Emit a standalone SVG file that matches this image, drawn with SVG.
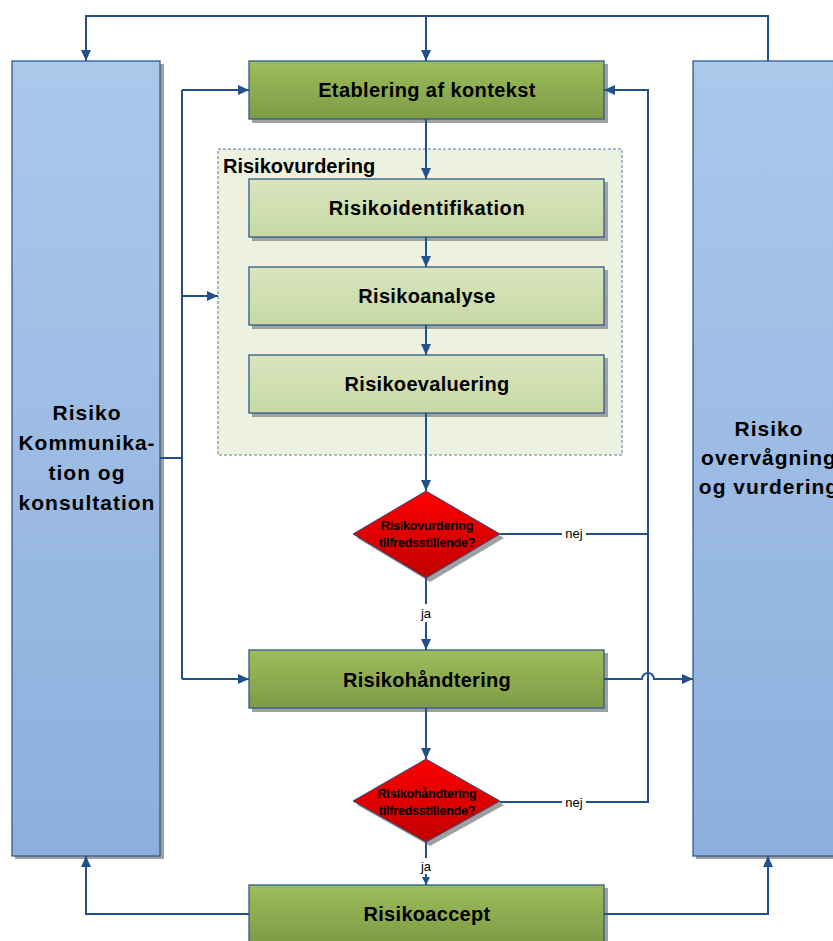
<svg xmlns="http://www.w3.org/2000/svg" width="833" height="941" viewBox="0 0 833 941">
<defs>
<linearGradient id="gG" x1="0" y1="0" x2="0" y2="1"><stop offset="0" stop-color="#9dbd5b"/><stop offset="1" stop-color="#7e9b45"/></linearGradient>
<linearGradient id="gL" x1="0" y1="0" x2="0" y2="1"><stop offset="0" stop-color="#d9e5be"/><stop offset="1" stop-color="#c7d8a4"/></linearGradient>
<linearGradient id="gB" x1="0" y1="0" x2="0" y2="1"><stop offset="0" stop-color="#abc8eb"/><stop offset="1" stop-color="#8cafdd"/></linearGradient>
<linearGradient id="gR" x1="0" y1="0" x2="0" y2="1"><stop offset="0" stop-color="#ff0000"/><stop offset="1" stop-color="#c00000"/></linearGradient>
<marker id="ah" markerUnits="userSpaceOnUse" markerWidth="12" markerHeight="10" refX="11" refY="5" orient="auto"><path d="M0,0 L11,5 L0,10 z" fill="#24508a"/></marker>
<marker id="ahs" markerUnits="userSpaceOnUse" markerWidth="8" markerHeight="8" refX="8" refY="4" orient="auto"><path d="M0,0 L8,4 L0,8 z" fill="#24508a"/></marker>
</defs>
<style>
.sh{fill:#a0a0a0}
.box{stroke:#2f5b8c;stroke-width:1.3}
.con{fill:none;stroke:#24508a;stroke-width:2}
.t{font-family:"Liberation Sans",Arial,sans-serif;font-weight:bold;fill:#000;text-anchor:middle}
.bt{font-size:20px;letter-spacing:0.3px}
.pt{font-size:21px;letter-spacing:1px}
.dt{font-size:12.5px;letter-spacing:-0.2px}
.lbl{font-family:"Liberation Sans",Arial,sans-serif;font-size:13px;fill:#000;text-anchor:middle}
</style>
<rect width="833" height="941" fill="#fff"/>

<g id="kommunikation">
<rect class="sh" x="15" y="64" width="149" height="795"/>
<rect class="box" x="12" y="61" width="148" height="795" fill="url(#gB)"/>
<text class="t pt" x="87" y="420">Risiko</text>
<text class="t pt" x="87" y="450">Kommunika-</text>
<text class="t pt" x="87" y="480">tion og</text>
<text class="t pt" x="87" y="510">konsultation</text>
</g>

<g id="overvaagning">
<rect class="sh" x="696" y="64" width="150" height="795"/>
<rect class="box" x="693" y="61" width="150" height="795" fill="url(#gB)"/>
<text class="t pt" x="769" y="436">Risiko</text>
<text class="t pt" x="769" y="465">overvågning</text>
<text class="t pt" x="769" y="494">og vurdering</text>
</g>

<g id="risikovurdering">
<rect x="218" y="149" width="404" height="306" fill="#ecf1e0" stroke="#5a7aa0" stroke-width="1" stroke-dasharray="3,2"/>
<text class="t" x="223" y="173" style="font-size:20px;text-anchor:start">Risikovurdering</text>
</g>

<g id="etablering">
<rect class="sh" x="252" y="64" width="356" height="59"/>
<rect class="box" x="249" y="61" width="355" height="58" fill="url(#gG)"/>
<text class="t bt" x="427" y="97" style="letter-spacing:0.4px">Etablering af kontekst</text>
</g>

<g id="identifikation">
<rect class="sh" x="252" y="182" width="356" height="59"/>
<rect class="box" x="249" y="179" width="355" height="58" fill="url(#gL)"/>
<text class="t bt" x="427" y="215" style="letter-spacing:0.6px">Risikoidentifikation</text>
</g>

<g id="analyse">
<rect class="sh" x="252" y="270" width="356" height="59"/>
<rect class="box" x="249" y="267" width="355" height="58" fill="url(#gL)"/>
<text class="t bt" x="427" y="303">Risikoanalyse</text>
</g>

<g id="evaluering">
<rect class="sh" x="252" y="358" width="356" height="59"/>
<rect class="box" x="249" y="355" width="355" height="58" fill="url(#gL)"/>
<text class="t bt" x="427" y="391">Risikoevaluering</text>
</g>

<g id="beslutning1">
<polygon class="sh" points="430,495 504,538 430,582 357,538"/>
<polygon points="426,491 500,534 426,578 353,534" fill="url(#gR)" stroke="#2b4f7e" stroke-width="1"/>
<text class="t dt" x="427" y="530">Risikovurdering</text>
<text class="t dt" x="427" y="547">tilfredsstillende?</text>
</g>

<g id="haandtering">
<rect class="sh" x="252" y="653" width="356" height="59"/>
<rect class="box" x="249" y="650" width="355" height="58" fill="url(#gG)"/>
<text class="t bt" x="427" y="687">Risikohåndtering</text>
</g>

<g id="beslutning2">
<polygon class="sh" points="430,763 504,805 430,846 357,805"/>
<polygon points="426,759 500,801 426,842 353,801" fill="url(#gR)" stroke="#2b4f7e" stroke-width="1"/>
<text class="t dt" x="427" y="798">Risikohåndtering</text>
<text class="t dt" x="427" y="815">tilfredsstillende?</text>
</g>

<g id="accept">
<rect class="sh" x="252" y="888" width="356" height="59"/>
<rect class="box" x="249" y="885" width="355" height="58" fill="url(#gG)"/>
<text class="t bt" x="427" y="921">Risikoaccept</text>
</g>

<g id="connectors">
<path class="con" d="M768,61 V16 H86 V61" marker-end="url(#ah)"/>
<path class="con" d="M426,16 V61" marker-end="url(#ah)"/>
<path class="con" d="M426,119 V179" marker-end="url(#ah)"/>
<path class="con" d="M426,237 V267" marker-end="url(#ah)"/>
<path class="con" d="M426,325 V355" marker-end="url(#ah)"/>
<path class="con" d="M426,413 V491" marker-end="url(#ah)"/>
<path class="con" d="M426,578 V650" marker-end="url(#ah)"/>
<path class="con" d="M426,708 V759" marker-end="url(#ah)"/>
<path class="con" d="M426,842 V885" marker-end="url(#ahs)"/>
<path class="con" d="M160,458 H182"/>
<path class="con" d="M182,90 V679"/>
<path class="con" d="M182,90 H249" marker-end="url(#ah)"/>
<path class="con" d="M182,296 H218" marker-end="url(#ah)"/>
<path class="con" d="M182,679 H249" marker-end="url(#ah)"/>
<path class="con" d="M500,534 H648"/>
<path class="con" d="M500,802 H648 V90 H604" marker-end="url(#ah)"/>
<path class="con" d="M604,679 H642 A6,6 0 0 1 654,679 H693" marker-end="url(#ah)"/>
<path class="con" d="M249,914 H86 V856" marker-end="url(#ah)"/>
<path class="con" d="M604,914 H768 V856" marker-end="url(#ah)"/>
<rect x="562" y="526" width="24" height="14" fill="#fff"/>
<text class="lbl" x="574" y="538">nej</text>
<rect x="562" y="794" width="24" height="14" fill="#fff"/>
<text class="lbl" x="574" y="807">nej</text>
<rect x="418" y="604" width="16" height="18" fill="#fff"/>
<text class="lbl" x="426" y="618">ja</text>
<rect x="418" y="858" width="16" height="16" fill="#fff"/>
<text class="lbl" x="426" y="871">ja</text>
</g>
</svg>
